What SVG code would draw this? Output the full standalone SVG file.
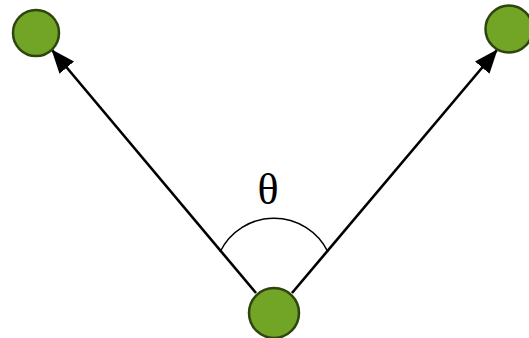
<svg xmlns="http://www.w3.org/2000/svg" width="529" height="338" viewBox="0 0 529 338">
<style>
.node{fill:#72a526;stroke:#2f4510;stroke-width:2.5}
.edge{stroke:#000;stroke-width:2.6;fill:none}
.arc{stroke:#000;stroke-width:1.5;fill:none}
.lbl{font-family:"Liberation Serif","DejaVu Serif",serif;font-size:44px;fill:#000}
</style>
<defs>
<marker id="arrow" viewBox="0 0 24 19" refX="23" refY="9.5" markerWidth="24" markerHeight="19" markerUnits="userSpaceOnUse" orient="auto">
<path d="M0,0 L24,9.5 L0,19 Z" fill="#000"/>
</marker>
</defs>
<rect width="529" height="338" fill="#fff"/>
<g id="edges">
<line class="edge" x1="256" y1="293" x2="52" y2="50" marker-end="url(#arrow)"/>
<line class="edge" x1="292" y1="293" x2="497" y2="50" marker-end="url(#arrow)"/>
<path class="arc" d="M220,252 A60,60 0 0 1 328,252"/>
</g>
<g id="node-left"><circle class="node" cx="36" cy="33" r="23"/></g>
<g id="node-right"><circle class="node" cx="509" cy="29" r="23.5"/></g>
<g id="node-bottom"><circle class="node" cx="274" cy="313" r="25"/></g>
<g id="label"><text class="lbl" x="268" y="204" text-anchor="middle">θ</text></g>
</svg>
